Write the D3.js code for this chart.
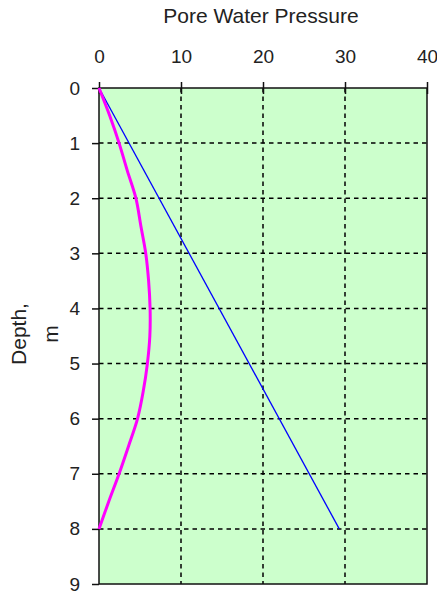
<!DOCTYPE html>
<meta charset="utf-8">
<style>
body { margin: 0; background: #fff; }
text { font-family: "Liberation Sans", Arial, sans-serif; fill: #222; }
</style>
<body>
<script src="https://d3js.org/d3.v7.min.js"></script>
<script>
// data
var depth = [0, 0.5, 1, 1.5, 2, 2.5, 3, 3.5, 4, 4.5, 5, 5.5, 6, 6.5, 7, 7.5, 8];
var excess = [0, 1.3, 2.45, 3.45, 4.5, 5.1, 5.7, 6.05, 6.23, 6.2, 5.9, 5.4, 4.7, 3.6, 2.45, 1.2, 0];
var lineDepth = [0, 8];
var linePress = [0, 29.3];
var xTicks = [0, 10, 20, 30, 40];
var yTicks = [0, 1, 2, 3, 4, 5, 6, 7, 8, 9];

var W = 437, H = 592;
var margin = {top: 88, right: 10, bottom: 8, left: 99},
    width = 427 - margin.left,
    height = 584 - margin.top;

var x = d3.scaleLinear().domain([0, 40]).range([0, width]);
var y = d3.scaleLinear().domain([0, 9]).range([0, height]);

var svg = d3.select("body").append("svg")
    .attr("width", W)
    .attr("height", H);

var g = svg.append("g")
    .attr("transform", "translate(" + margin.left + "," + margin.top + ")");

// plot background
g.append("rect")
    .attr("width", width)
    .attr("height", height)
    .attr("fill", "#ccffcc");

// grid
g.selectAll(".vgrid")
    .data(xTicks.slice(1, -1))
  .enter().append("line")
    .attr("x1", d => x(d)).attr("x2", d => x(d))
    .attr("y1", 0).attr("y2", height)
    .attr("stroke", "#000")
    .attr("stroke-width", 1.5)
    .attr("stroke-dasharray", "4.5,4");

g.selectAll(".hgrid")
    .data(yTicks.slice(1, -1))
  .enter().append("line")
    .attr("x1", 0).attr("x2", width)
    .attr("y1", d => y(d)).attr("y2", d => y(d))
    .attr("stroke", "#000")
    .attr("stroke-width", 1.5)
    .attr("stroke-dasharray", "4.5,4");

// border
g.append("rect")
    .attr("width", width)
    .attr("height", height)
    .attr("fill", "none")
    .attr("stroke", "#111")
    .attr("stroke-width", 1.5);

// axes
var xAxis = d3.axisTop(x).tickValues(xTicks).tickSize(6).tickPadding(19);
var yAxis = d3.axisLeft(y).tickValues(yTicks).tickSize(7).tickPadding(12);

var gx = g.append("g").call(xAxis);
var gy = g.append("g").call(yAxis);
[gx, gy].forEach(function(a) {
  a.select(".domain").remove();
  a.selectAll("line").attr("stroke", "#111").attr("stroke-width", 1.5);
  a.selectAll("text").attr("font-size", 19).attr("fill", "#222")
    .style("font-family", "'Liberation Sans', Arial, sans-serif");
});
// top ticks cross the frame
gx.selectAll(".tick line").attr("y2", -6).attr("y1", 6);

// blue line
var blue = d3.line()
    .x(function(d, i) { return x(linePress[i]); })
    .y(function(d) { return y(d); });
g.append("path")
    .datum(lineDepth)
    .attr("d", blue)
    .attr("fill", "none")
    .attr("stroke", "#0000ff")
    .attr("stroke-width", 1.3);

// magenta curve
var mag = d3.line()
    .x(function(d, i) { return x(excess[i]); })
    .y(function(d) { return y(d); })
    .curve(d3.curveCatmullRom);
g.append("path")
    .datum(depth)
    .attr("d", mag)
    .attr("fill", "none")
    .attr("stroke", "#ff00ff")
    .attr("stroke-width", 3);

// titles
svg.append("text")
    .attr("x", 261).attr("y", 23)
    .attr("text-anchor", "middle")
    .attr("font-size", 21)
    .text("Pore Water Pressure");

var yl = svg.append("text")
    .attr("transform", "translate(0,334) rotate(-90)")
    .attr("text-anchor", "middle")
    .attr("font-size", 21);
yl.append("tspan").attr("x", 0).attr("y", 26).text("Depth,");
yl.append("tspan").attr("x", 0).attr("y", 58).text("m");
</script>
</body>
